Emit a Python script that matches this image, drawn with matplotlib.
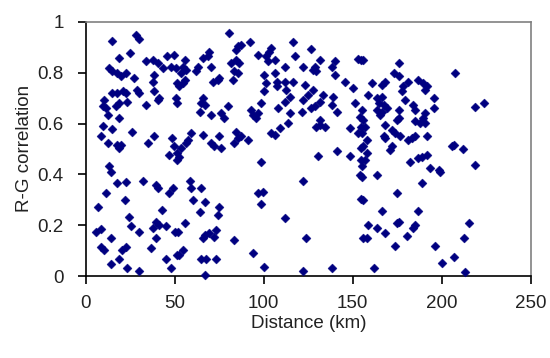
import matplotlib
matplotlib.use('agg')
import numpy as np
import matplotlib.pyplot as plt

plt.rcParams['font.family'] = ['Liberation Sans', 'DejaVu Sans']

# distance (km) between station pairs and R-G correlation, 0-52 km
dist_a = [15.0, 28.1, 30.0, 24.9, 18.7, 13.1, 15.0, 17.8, 19.7, 22.5, 27.2,
          33.7, 37.5, 40.3, 43.1, 45.9, 49.6, 47.8, 50.6, 38.4, 37.5, 51.5,
          50.6, 51.5, 29.0, 30.0, 38.4, 40.3, 41.2, 33.7, 15.0, 17.8, 21.0,
          22.8, 23.4, 18.7, 17.2, 10.3, 11.2, 12.5, 9.4, 18.7, 9.4, 15.0,
          8.4, 25.8, 12.2, 17.8, 18.7, 19.7, 34.7, 38.4, 48.7, 49.6, 51.5,
          51.5, 46.8, 13.1, 14.0, 17.8, 22.5, 32.2, 39.7, 40.3, 46.8, 49.1,
          11.2, 21.9, 6.6, 24.3, 25.3, 30.0, 42.7, 39.3, 41.2, 45.0, 37.5,
          50.2, 5.6, 8.4, 14.0, 39.3, 8.4, 10.3, 22.5, 20.6, 36.5, 18.7,
          14.0, 23.4, 30.0, 45.0, 47.8, 51.5]
corr_a = [0.925, 0.949, 0.932, 0.877, 0.857, 0.818, 0.805, 0.798, 0.785, 0.798, 0.778,
          0.847, 0.851, 0.837, 0.818, 0.864, 0.870, 0.824, 0.818, 0.792, 0.765, 0.759,
          0.700, 0.680, 0.733, 0.719, 0.726, 0.693, 0.700, 0.673, 0.719, 0.722, 0.726,
          0.719, 0.683, 0.680, 0.669, 0.693, 0.660, 0.634, 0.667, 0.621, 0.591, 0.578,
          0.549, 0.565, 0.522, 0.516, 0.503, 0.516, 0.522, 0.549, 0.542, 0.510, 0.483,
          0.457, 0.477, 0.431, 0.411, 0.365, 0.368, 0.374, 0.358, 0.345, 0.325, 0.345,
          0.328, 0.299, 0.271, 0.234, 0.195, 0.175, 0.259, 0.214, 0.201, 0.195, 0.188,
          0.175, 0.175, 0.184, 0.148, 0.148, 0.116, 0.103, 0.116, 0.103, 0.109, 0.066,
          0.047, 0.031, 0.021, 0.066, 0.031, 0.083]

# 52-104 km
dist_b = [80.2, 85.4, 87.3, 92.0, 84.5, 96.7, 101.3, 103.2, 102.3, 69.5, 68.6,
          70.4, 65.7, 62.9, 62.0, 55.5, 54.5, 53.6, 55.5, 54.5, 56.4, 52.6,
          81.7, 84.5, 86.3, 83.5, 85.4, 82.6, 71.4, 74.2, 75.1, 100.4, 101.3,
          100.4, 98.5, 65.8, 64.8, 66.7, 63.9, 70.4, 76.0, 77.9, 79.8, 92.9,
          93.8, 95.7, 96.7, 59.2, 57.3, 56.4, 53.6, 52.6, 65.7, 70.4, 72.3,
          75.1, 76.0, 84.5, 85.4, 83.5, 91.0, 87.3, 104.1, 98.5, 58.3, 59.2,
          64.8, 60.1, 66.7, 63.9, 75.1, 74.2, 96.7, 99.5, 98.5, 55.5, 51.7,
          73.2, 66.7, 69.5, 65.8, 72.3, 83.5, 54.5, 52.6, 64.8, 67.6, 73.2,
          66.7, 93.8, 100.0]
corr_b = [0.956, 0.903, 0.910, 0.919, 0.890, 0.870, 0.864, 0.883, 0.844, 0.883, 0.864,
          0.824, 0.857, 0.824, 0.805, 0.851, 0.824, 0.798, 0.772, 0.759, 0.811, 0.746,
          0.837, 0.851, 0.837, 0.805, 0.798, 0.772, 0.765, 0.772, 0.778, 0.792, 0.759,
          0.726, 0.680, 0.700, 0.680, 0.673, 0.647, 0.634, 0.641, 0.621, 0.667, 0.654,
          0.634, 0.621, 0.641, 0.562, 0.536, 0.522, 0.503, 0.470, 0.555, 0.522, 0.510,
          0.549, 0.503, 0.568, 0.542, 0.522, 0.536, 0.549, 0.562, 0.450, 0.372, 0.345,
          0.345, 0.299, 0.293, 0.253, 0.273, 0.240, 0.326, 0.329, 0.284, 0.208, 0.175,
          0.181, 0.162, 0.168, 0.148, 0.155, 0.142, 0.103, 0.083, 0.066, 0.066, 0.066,
          0.004, 0.092, 0.037]

# 104-156 km
dist_c = [116.5, 126.8, 117.4, 122.1, 111.8, 106.2, 104.3, 131.5, 128.7, 129.6,
          127.8, 139.9, 138.1, 139.9, 153.0, 154.9, 106.2, 107.2, 111.8, 116.5,
          112.7, 114.6, 111.8, 108.1, 114.6, 107.2, 123.1, 127.8, 124.9, 122.1,
          145.5, 150.2, 151.2, 133.4, 139.0, 138.1, 140.9, 131.5, 126.8, 121.2,
          128.7, 131.5, 129.6, 134.3, 131.5, 154.0, 154.9, 153.0, 148.3, 113.7,
          109.0, 106.2, 130.6, 140.9, 148.3, 154.9, 154.9, 154.0, 122.1, 154.9,
          111.8, 124.0, 122.1, 138.1, 155.8]
corr_c = [0.919, 0.893, 0.864, 0.824, 0.824, 0.851, 0.897, 0.851, 0.824, 0.805,
          0.811, 0.844, 0.824, 0.792, 0.853, 0.851, 0.798, 0.765, 0.765, 0.765,
          0.732, 0.706, 0.686, 0.660, 0.641, 0.746, 0.752, 0.732, 0.713, 0.693,
          0.765, 0.739, 0.680, 0.713, 0.706, 0.673, 0.647, 0.686, 0.660, 0.647,
          0.667, 0.614, 0.588, 0.588, 0.595, 0.627, 0.588, 0.562, 0.582, 0.601,
          0.582, 0.555, 0.473, 0.492, 0.473, 0.503, 0.457, 0.398, 0.375, 0.302,
          0.227, 0.148, 0.021, 0.031, 0.148]

# 156-225 km
dist_d = [156.0, 175.7, 172.9, 175.7, 168.2, 166.3, 160.7, 181.3, 178.5, 177.6,
          179.5, 186.9, 189.7, 191.6, 190.7, 158.8, 163.5, 166.3, 164.5, 167.3,
          163.5, 166.3, 169.1, 165.4, 175.7, 175.7, 174.8, 184.1, 185.1, 190.7,
          195.4, 195.4, 185.1, 187.9, 190.7, 189.7, 155.1, 156.0, 157.0, 155.1,
          157.9, 156.0, 157.9, 157.0, 155.1, 168.2, 167.3, 168.2, 171.9, 173.8,
          176.6, 171.9, 171.0, 181.3, 183.2, 185.1, 191.6, 188.8, 191.6, 186.9,
          182.3, 193.5, 198.2, 199.1, 205.7, 207.5, 163.5, 155.1, 188.8, 174.8,
          156.0, 166.3, 186.9, 158.8, 163.5, 168.2, 174.8, 175.7, 185.1, 184.1,
          180.4, 157.9, 173.8, 196.3, 200.1, 206.6, 161.7, 218.9, 223.6, 206.7,
          212.0, 218.9, 215.1, 212.3, 212.9]
corr_d = [0.851, 0.840, 0.798, 0.785, 0.765, 0.752, 0.759, 0.765, 0.746, 0.726,
          0.693, 0.772, 0.759, 0.746, 0.732, 0.713, 0.700, 0.706, 0.680, 0.673,
          0.654, 0.647, 0.660, 0.634, 0.654, 0.621, 0.614, 0.673, 0.654, 0.641,
          0.700, 0.660, 0.608, 0.601, 0.601, 0.621, 0.654, 0.614, 0.588, 0.562,
          0.536, 0.510, 0.483, 0.457, 0.431, 0.595, 0.549, 0.542, 0.575, 0.562,
          0.549, 0.510, 0.497, 0.536, 0.542, 0.549, 0.549, 0.470, 0.477, 0.464,
          0.447, 0.424, 0.418, 0.411, 0.513, 0.798, 0.398, 0.391, 0.365, 0.326,
          0.299, 0.257, 0.257, 0.201, 0.188, 0.168, 0.208, 0.214, 0.201, 0.188,
          0.158, 0.148, 0.118, 0.118, 0.053, 0.076, 0.031, 0.664, 0.682, 0.516,
          0.499, 0.437, 0.207, 0.148, 0.017]

distance = dist_a + dist_b + dist_c + dist_d
correlation = corr_a + corr_b + corr_c + corr_d

fig = plt.figure(figsize=(5.5, 3.58), dpi=100)
ax = fig.add_axes([0.156, 0.229, 0.809, 0.710])

# navy diamonds, drawn over the axis lines like the spreadsheet export
ax.scatter(distance, correlation, marker='D', s=21, color='#000080',
           linewidths=0.3, edgecolors='#000080', clip_on=False, zorder=3)

ax.set_xlim(0, 250)
ax.set_ylim(0, 1)
ax.set_xticks(np.arange(0, 251, 50))
ax.set_yticks([0, 0.2, 0.4, 0.6, 0.8, 1.0])
ax.set_yticklabels(['0', '0.2', '0.4', '0.6', '0.8', '1'])

for side in ['left', 'bottom']:
    ax.spines[side].set_color('black')
    ax.spines[side].set_linewidth(1.2)
for side in ['top', 'right']:
    ax.spines[side].set_color('#808080')
    ax.spines[side].set_linewidth(1.2)

ax.tick_params(direction='out', length=6, width=1.2, labelsize=13.5,
               labelcolor='#222222')
ax.tick_params(axis='y', pad=10)
ax.tick_params(axis='x', pad=8)

ax.set_xlabel('Distance (km)', fontsize=13.5, labelpad=2, color='#222222')
ax.set_ylabel('R-G correlation', fontsize=13.5, labelpad=3, color='#222222')

plt.savefig('out.png', dpi=100)
